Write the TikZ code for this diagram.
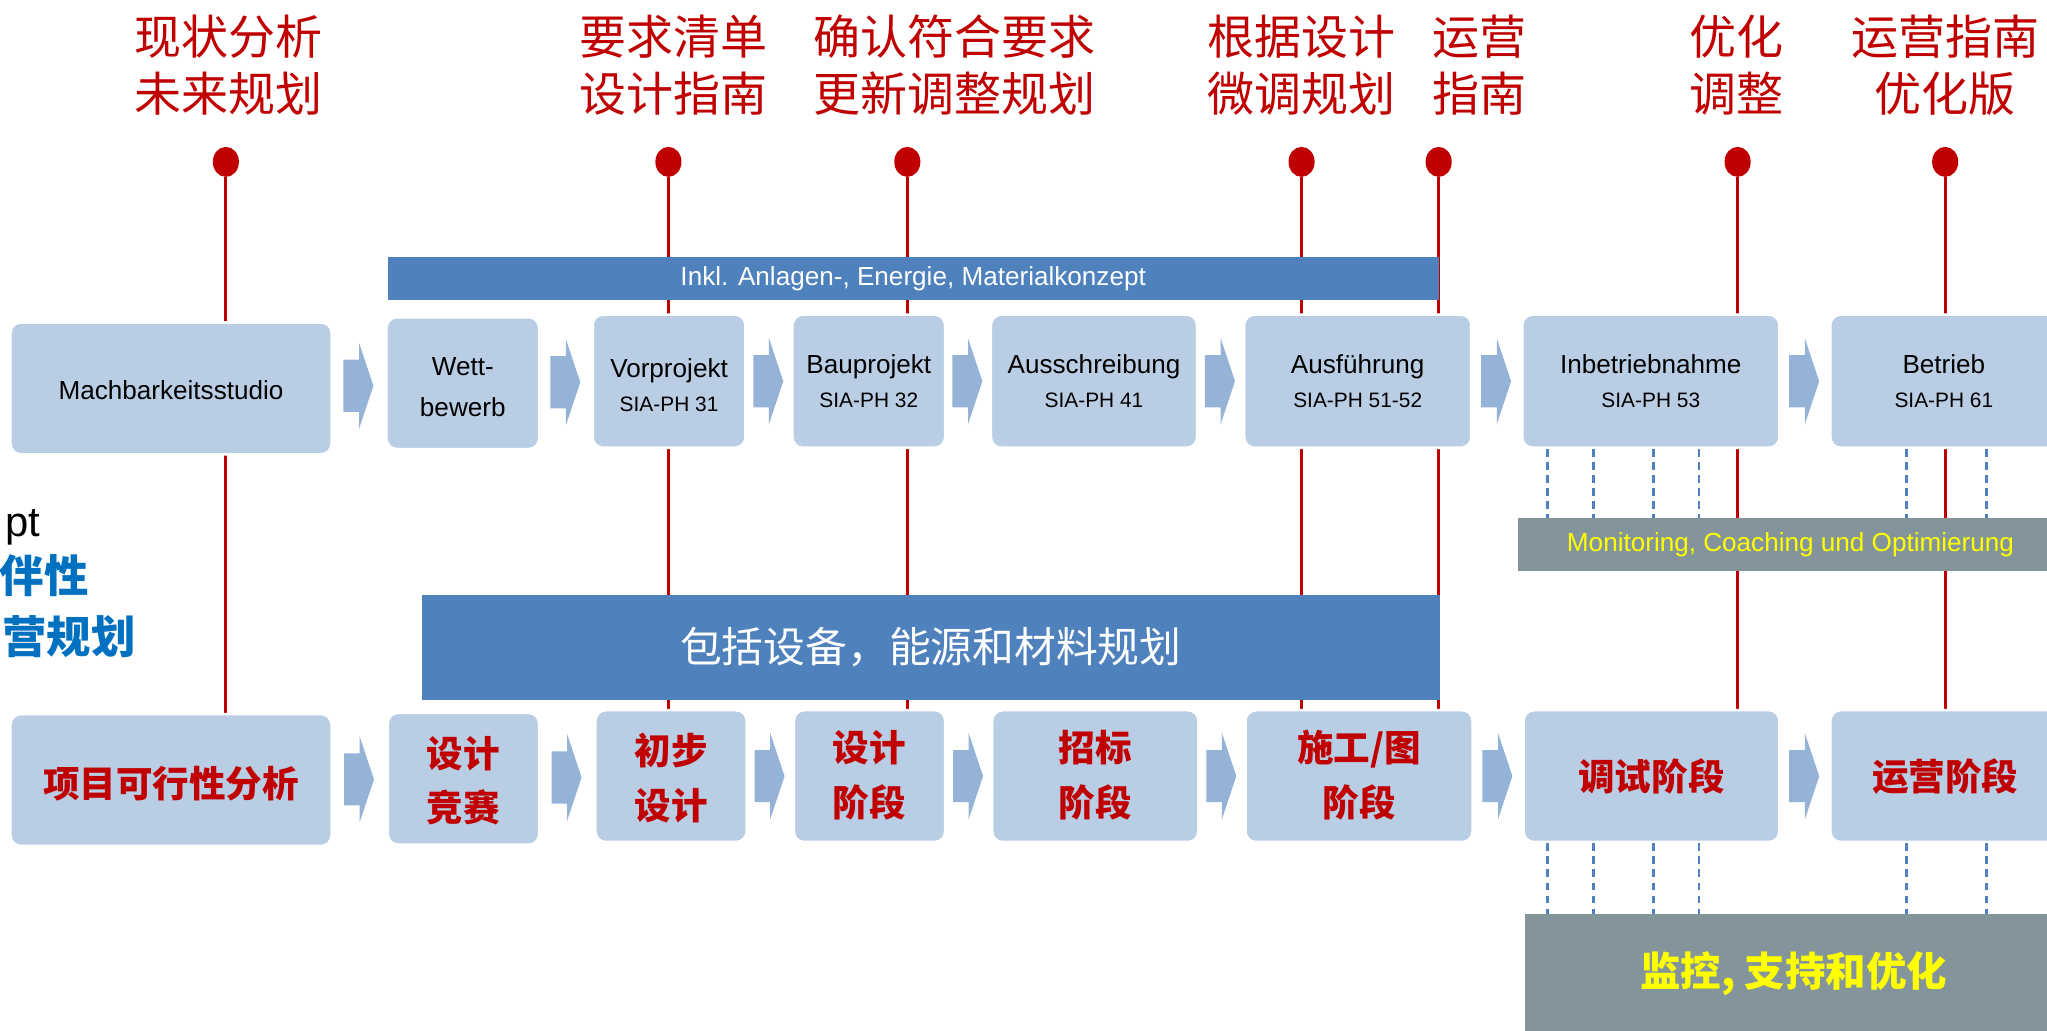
\documentclass[tikz,border=0pt]{standalone}
\usepackage{fontspec}
\setmainfont{Liberation Sans}
\newfontfamily\cjk{Noto Sans CJK SC}
\usetikzlibrary{calc,shapes.geometric}
\definecolor{boxc}{HTML}{B9CDE5}
\definecolor{arrc}{HTML}{95B3D7}
\definecolor{barc}{HTML}{4F81BD}
\definecolor{grayc}{HTML}{83959B}
\definecolor{redc}{HTML}{C00000}
\definecolor{bluet}{HTML}{0070C0}
\definecolor{yel}{HTML}{FFFF00}
\begin{document}
\begin{tikzpicture}[x=1pt,y=-1pt,
  box/.style={rectangle, rounded corners=8pt, fill=boxc, draw=white, line width=2pt, inner sep=0pt},
  bar/.style={rectangle, fill=barc, inner sep=0pt, text=white},
  gbar/.style={rectangle, fill=grayc, inner sep=0pt, text=yel},
  redline/.style={draw=redc, line width=2.4pt},
  reddot/.style={ellipse, fill=redc, minimum width=20pt, minimum height=23pt, inner sep=0pt},
  toplab/.style={align=center, text=redc, inner sep=0pt, font=\cjk\fontsize{36}{44}\selectfont},
  lname/.style={anchor=base, inner sep=0pt, font=\fontsize{20}{24}\selectfont},
  lsia/.style={anchor=base, inner sep=0pt, font=\fontsize{16}{19}\selectfont},
  zh/.style={align=center, text=redc, inner sep=0pt, font=\cjk\bfseries\fontsize{28}{42}\selectfont},
  dashline/.style={draw=barc, line width=2pt, dash pattern=on 6pt off 4pt},
  blockarrow/.style={fill=arrc}
]
\useasboundingbox (0,0) rectangle (1568,789);

% top labels
\node[toplab] (t1) at (175,50) {现状分析\\未来规划};
\node[toplab] (t2) at (516,50) {要求清单\\设计指南};
\node[toplab] (t3) at (731,50) {确认符合要求\\更新调整规划};
\node[toplab] (t4) at (997,50) {根据设计\\微调规划};
\node[toplab] (t5) at (1133,50) {运营\\指南};
\node[toplab] (t6) at (1330,50) {优化\\调整};
\node[toplab] (t7) at (1490,50) {运营指南\\优化版};

% dots
\node[reddot] (p1) at (173,124) {};
\node[reddot] (p2) at (512,124) {};
\node[reddot] (p3) at (695,124) {};
\node[reddot] (p4) at (997,124) {};
\node[reddot] (p5) at (1102,124) {};
\node[reddot] (p6) at (1331,124) {};
\node[reddot] (p7) at (1490,124) {};

\coordinate (bottomref) at (0,595);
\foreach \p in {p1,p2,p3,p4,p5,p6,p7}{
  \draw[redline] (\p) -- (\p |- bottomref);
}

% row 1 boxes
\node[box, minimum width=246pt, minimum height=101pt] (m1) at (131,297.5) {};
\node[box, minimum width=117pt, minimum height=101pt] (m2) at (354.5,293.5) {};
\node[box, minimum width=117pt, minimum height=102pt] (m3) at (512.5,292) {};
\node[box, minimum width=117pt, minimum height=102pt] (m4) at (665.5,292) {};
\node[box, minimum width=158pt, minimum height=102pt] (m5) at (838,292) {};
\node[box, minimum width=174pt, minimum height=102pt] (m6) at (1040,292) {};
\node[box, minimum width=197pt, minimum height=102pt] (m7) at (1264.5,292) {};
\node[box, minimum width=180pt, minimum height=102pt] (m8) at (1492,292) {};

\node[lname] (m1a) at ($(m1.center)+(0,8.5)$) {Machbarkeitsstudio};
\node[lname] (m2a) at ($(m2.center)+(0,-5.5)$) {Wett-};
\node[lname] (m2b) at ($(m2.center)+(0,25.5)$) {bewerb};
\node[lname] (m3a) at ($(m3.center)+(0,-3)$) {Vorprojekt};
\node[lsia] (m3b) at ($(m3.center)+(0,23)$) {SIA-PH 31};
\node[lname] (m4a) at ($(m4.center)+(0,-6)$) {Bauprojekt};
\node[lsia] (m4b) at ($(m4.center)+(0,20)$) {SIA-PH 32};
\node[lname] (m5a) at ($(m5.center)+(0,-6)$) {Ausschreibung};
\node[lsia] (m5b) at ($(m5.center)+(0,20)$) {SIA-PH 41};
\node[lname] (m6a) at ($(m6.center)+(0,-6)$) {Ausführung};
\node[lsia] (m6b) at ($(m6.center)+(0,20)$) {SIA-PH 51-52};
\node[lname] (m7a) at ($(m7.center)+(0,-6)$) {Inbetriebnahme};
\node[lsia] (m7b) at ($(m7.center)+(0,20)$) {SIA-PH 53};
\node[lname] (m8a) at (1489,286) {Betrieb};
\node[lsia] (m8b) at (1489,312) {SIA-PH 61};

% row 2 boxes
\node[box, minimum width=246pt, minimum height=101pt] (b1) at (131,597.5) {};
\node[box, minimum width=116pt, minimum height=101pt] (b2) at (355,596.5) {};
\node[box, minimum width=116pt, minimum height=101pt] (b3) at (514,594.5) {};
\node[box, minimum width=116pt, minimum height=101pt] (b4) at (666,594.5) {};
\node[box, minimum width=158pt, minimum height=101pt] (b5) at (839,594.5) {};
\node[box, minimum width=174pt, minimum height=101pt] (b6) at (1041,594.5) {};
\node[box, minimum width=196pt, minimum height=101pt] (b7) at (1265,594.5) {};
\node[box, minimum width=180pt, minimum height=101pt] (b8) at (1492,594.5) {};

\node[zh] (b1a) at (131,600) {项目可行性分析};
\node[zh] (b2a) at (355,598) {设计\\竞赛};
\node[zh] (b3a) at (514,596) {初步\\设计};
\node[zh] (b4a) at (666,594) {设计\\阶段};
\node[zh] (b5a) at (839,594) {招标\\阶段};
\node[zh] (b6a) at (1041,594) {施工/图\\阶段};
\node[zh] (b7a) at (1265,595) {调试阶段};
\node[zh] (b8a) at (1490,595) {运营阶段};

% block arrows between boxes
\foreach \a/\b in {m1/m2,m2/m3,m3/m4,m4/m5,m5/m6,m6/m7,m7/m8,b1/b2,b2/b3,b3/b4,b4/b5,b5/b6,b6/b7,b7/b8}{
  \fill[blockarrow] ($(\a.east)!0.5!(\b.west)$) ++(-12,-20) -- ++(12,0) -- ++(0,-13) -- ++(11,33) -- ++(-11,33) -- ++(0,-13) -- ++(-12,0) -- cycle;
}

% bars
\node[bar, minimum width=805pt, minimum height=33pt, font=\fontsize{20}{23}\selectfont] (inkl) at (699.5,213.5) {Inkl. Anlagen-, Energie, Materialkonzept};
\node[bar, minimum width=780pt, minimum height=80pt, font=\cjk\fontsize{32}{36}\selectfont] (incl) at (713,496) {包括设备，能源和材料规划};
\node[gbar, minimum width=417pt, minimum height=40pt, font=\fontsize{20}{23}\selectfont] (mon) at (1371.5,417) {Monitoring, Coaching und Optimierung};
\node[gbar, minimum width=412pt, minimum height=92pt, font=\cjk\bfseries\fontsize{31}{36}\selectfont] (sup) at (1374,746) {监控, 支持和优化};

% dashed connectors
\coordinate (d1) at (1185.5,0);
\coordinate (d2) at (1220.5,0);
\coordinate (d3) at (1266.5,0);
\coordinate (d4) at (1301.5,0);
\coordinate (d5) at (1460.5,0);
\coordinate (d6) at (1521.5,0);
\foreach \d in {d1,d2,d3,d4}{
  \draw[dashline] (m7.south -| \d) -- (mon.north -| \d);
  \draw[dashline] (b7.south -| \d) -- (sup.north -| \d);
}
\foreach \d in {d5,d6}{
  \draw[dashline] (m8.south -| \d) -- (mon.north -| \d);
  \draw[dashline] (b8.south -| \d) -- (sup.north -| \d);
}

% clipped left texts
\node[anchor=base east, inner sep=0pt, font=\fontsize{32}{36}\selectfont] (lp) at (31,411) {pt};
\node[anchor=east, inner sep=0pt, text=bluet, font=\cjk\bfseries\fontsize{34}{38}\selectfont] (lb) at (68,441) {伴性};
\node[anchor=east, inner sep=0pt, text=bluet, font=\cjk\bfseries\fontsize{34}{38}\selectfont] (lc) at (104,488) {营规划};
\end{tikzpicture}
\end{document}
